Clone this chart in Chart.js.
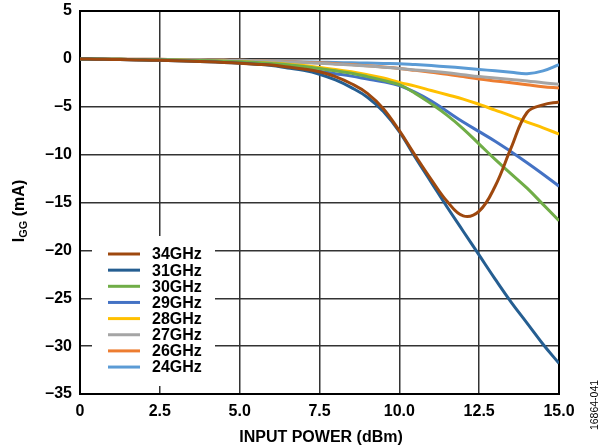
<!DOCTYPE html>
<html>
<head>
<meta charset="utf-8">
<script src="https://cdn.jsdelivr.net/npm/chart.js@4.4.0/dist/chart.umd.min.js"></script>
<style>
  body { margin: 0; background: #fff; }
  #wrap { width: 605px; height: 446px; }
</style>
</head>
<body>
<div id="wrap"><canvas id="myChart" width="605" height="446"></canvas></div>
<script>
// input power (dBm)
const inputPower = [0, 0.5, 1, 1.5, 2, 2.5, 3, 3.5, 4, 4.5, 5, 5.5, 6, 6.5, 7, 7.5,
    8, 8.5, 9, 9.5, 10, 10.5, 11, 11.5, 12, 12.5, 13, 13.5, 14, 14.5, 15];

// IGG (mA) per frequency
const igg34 = [0, -0.03, -0.06, -0.09, -0.12, -0.15, -0.2, -0.25, -0.3, -0.37, -0.45, -0.55, -0.65, -0.85, -1.05, -1.35,
    -1.85, -2.6, -3.6, -5.2, -7.5, -10.1, -12.6, -14.9, -16.4, -15.9, -13.3, -9.3, -5.6, -4.8, -4.5];
const igg31 = [0, -0.03, -0.06, -0.09, -0.12, -0.15, -0.2, -0.25, -0.3, -0.37, -0.45, -0.55, -0.7, -0.95, -1.2, -1.6,
    -2.2, -3.0, -4.0, -5.5, -7.6, -10.3, -12.9, -15.5, -18.0, -20.5, -23.0, -25.4, -27.6, -29.8, -31.8];
const igg30 = [0, -0.02, -0.04, -0.06, -0.08, -0.1, -0.13, -0.16, -0.2, -0.25, -0.3, -0.38, -0.48, -0.6, -0.8, -1.0,
    -1.25, -1.5, -1.85, -2.25, -2.7, -3.6, -4.7, -5.9, -7.3, -8.9, -10.5, -12.0, -13.5, -15.2, -16.9];
const igg29 = [0, -0.02, -0.04, -0.06, -0.08, -0.1, -0.14, -0.18, -0.23, -0.29, -0.35, -0.45, -0.58, -0.75, -1.0, -1.3,
    -1.55, -1.8, -2.1, -2.4, -2.8, -3.5, -4.4, -5.5, -6.6, -7.6, -8.6, -9.7, -10.85, -12.05, -13.3];
const igg28 = [0, -0.02, -0.04, -0.06, -0.08, -0.1, -0.13, -0.16, -0.2, -0.25, -0.3, -0.37, -0.45, -0.55, -0.7, -0.9,
    -1.1, -1.35, -1.65, -2.0, -2.45, -2.85, -3.3, -3.75, -4.2, -4.75, -5.35, -5.95, -6.6, -7.2, -7.85];
const igg27 = [0, -0.01, -0.02, -0.03, -0.04, -0.05, -0.07, -0.09, -0.11, -0.13, -0.15, -0.2, -0.25, -0.32, -0.38, -0.45,
    -0.55, -0.65, -0.75, -0.87, -1.0, -1.15, -1.3, -1.45, -1.65, -1.85, -2.0, -2.15, -2.3, -2.5, -2.65];
const igg26 = [0, -0.01, -0.02, -0.03, -0.04, -0.05, -0.07, -0.09, -0.11, -0.13, -0.15, -0.2, -0.25, -0.3, -0.35, -0.4,
    -0.5, -0.6, -0.72, -0.85, -1.0, -1.2, -1.4, -1.6, -1.85, -2.1, -2.3, -2.5, -2.7, -2.9, -3.05];
const igg24 = [0, -0.02, -0.04, -0.06, -0.08, -0.1, -0.12, -0.14, -0.16, -0.18, -0.2, -0.23, -0.26, -0.29, -0.32, -0.35,
    -0.38, -0.41, -0.44, -0.47, -0.5, -0.6, -0.7, -0.82, -0.95, -1.1, -1.25, -1.4, -1.55, -1.25, -0.6];

const seriesLabels = ['34GHz', '31GHz', '30GHz', '29GHz', '28GHz', '27GHz', '26GHz', '24GHz'];
const seriesValues = [igg34, igg31, igg30, igg29, igg28, igg27, igg26, igg24];
const seriesColors = ['#9E480E', '#255E91', '#70AD47', '#4472C4', '#FFC000', '#A5A5A5', '#ED7D31', '#5B9BD5'];

const xTicks = [0, 2.5, 5, 7.5, 10, 12.5, 15];
const yTicks = [5, 0, -5, -10, -15, -20, -25, -30, -35];

const FONT = 'Liberation Sans, Arial, sans-serif';

// frame, legend box and axis titles
const extras = {
    id: 'extras',
    beforeDatasetsDraw(chart) {
        const ctx = chart.ctx;
        const a = chart.chartArea;
        ctx.save();
        ctx.strokeStyle = '#000';
        ctx.lineWidth = 2;
        ctx.strokeRect(a.left, a.top, a.right - a.left, a.bottom - a.top);
        // legend background
        ctx.fillStyle = '#fff';
        ctx.fillRect(92, 236, 123, 150);
        ctx.restore();
    },
    afterDatasetsDraw(chart) {
        const ctx = chart.ctx;
        ctx.save();
        ctx.font = 'bold 16px ' + FONT;
        ctx.textBaseline = 'middle';
        chart.data.datasets.forEach((ds, i) => {
            const y = 254 + i * 16.15;
            ctx.strokeStyle = ds.borderColor;
            ctx.lineWidth = 3;
            ctx.beginPath();
            ctx.moveTo(108, y);
            ctx.lineTo(140, y);
            ctx.stroke();
            ctx.fillStyle = '#000';
            ctx.fillText(ds.label, 152, y + 1);
        });

        // x title
        ctx.textAlign = 'center';
        ctx.fillText('INPUT POWER (dBm)', 321, 438);

        // y title with subscript
        ctx.translate(20, 211);
        ctx.rotate(-Math.PI / 2);
        const big = 'bold 16px ' + FONT, small = 'bold 11px ' + FONT;
        ctx.font = big;
        const wI = ctx.measureText('I').width;
        const wR = ctx.measureText(' (mA)').width;
        ctx.font = small;
        const wG = ctx.measureText('GG').width;
        let x = -(wI + wG + wR) / 2;
        ctx.textAlign = 'left';
        ctx.font = big;
        ctx.fillText('I', x, 0);
        x += wI;
        ctx.font = small;
        ctx.fillText('GG', x, 4);
        x += wG;
        ctx.font = big;
        ctx.fillText(' (mA)', x, 0);
        ctx.restore();

        // figure id
        ctx.save();
        ctx.translate(595, 405);
        ctx.rotate(-Math.PI / 2);
        ctx.font = '10.5px ' + FONT;
        ctx.fillStyle = '#000';
        ctx.textAlign = 'center';
        ctx.textBaseline = 'middle';
        ctx.fillText('16864-041', 0, 0);
        ctx.restore();
    }
};

const ctx = document.getElementById('myChart').getContext('2d');
const myChart = new Chart(ctx, {
    type: 'line',
    data: {
        labels: inputPower,
        datasets: seriesLabels.map((label, i) => ({
            label: label,
            data: inputPower.map((p, j) => ({ x: p, y: seriesValues[i][j] })),
            borderColor: seriesColors[i],
            backgroundColor: seriesColors[i],
            borderWidth: 3,
            pointRadius: 0,
            fill: false,
            tension: 0.4
        }))
    },
    options: {
        responsive: false,
        animation: false,
        layout: { padding: { top: 11, right: 46, left: 0, bottom: 0 } },
        plugins: {
            legend: { display: false },
            tooltip: { enabled: false }
        },
        scales: {
            x: {
                type: 'linear',
                min: 0,
                max: 15,
                afterBuildTicks: s => { s.ticks = xTicks.map(v => ({ value: v })); },
                afterFit: s => { s.height = 52; s.paddingLeft = 0; s.paddingRight = 0; },
                grid: { color: '#333', lineWidth: 1.5, drawTicks: false },
                border: { display: false },
                ticks: {
                    padding: 8,
                    color: '#000',
                    font: { family: FONT, size: 16, weight: 'bold' },
                    callback: v => v === 0 ? '0' : v.toFixed(1)
                }
            },
            y: {
                min: -35,
                max: 5,
                afterBuildTicks: s => { s.ticks = yTicks.map(v => ({ value: v })); },
                afterFit: s => { s.width = 80; s.paddingTop = 0; s.paddingBottom = 0; },
                grid: { color: '#333', lineWidth: 1.5, drawTicks: false },
                border: { display: false },
                ticks: {
                    padding: 8,
                    color: '#000',
                    font: { family: FONT, size: 16, weight: 'bold' },
                    callback: v => v < 0 ? '\u2013' + Math.abs(v) : String(v)
                }
            }
        }
    },
    plugins: [extras]
});
</script>
</body>
</html>
